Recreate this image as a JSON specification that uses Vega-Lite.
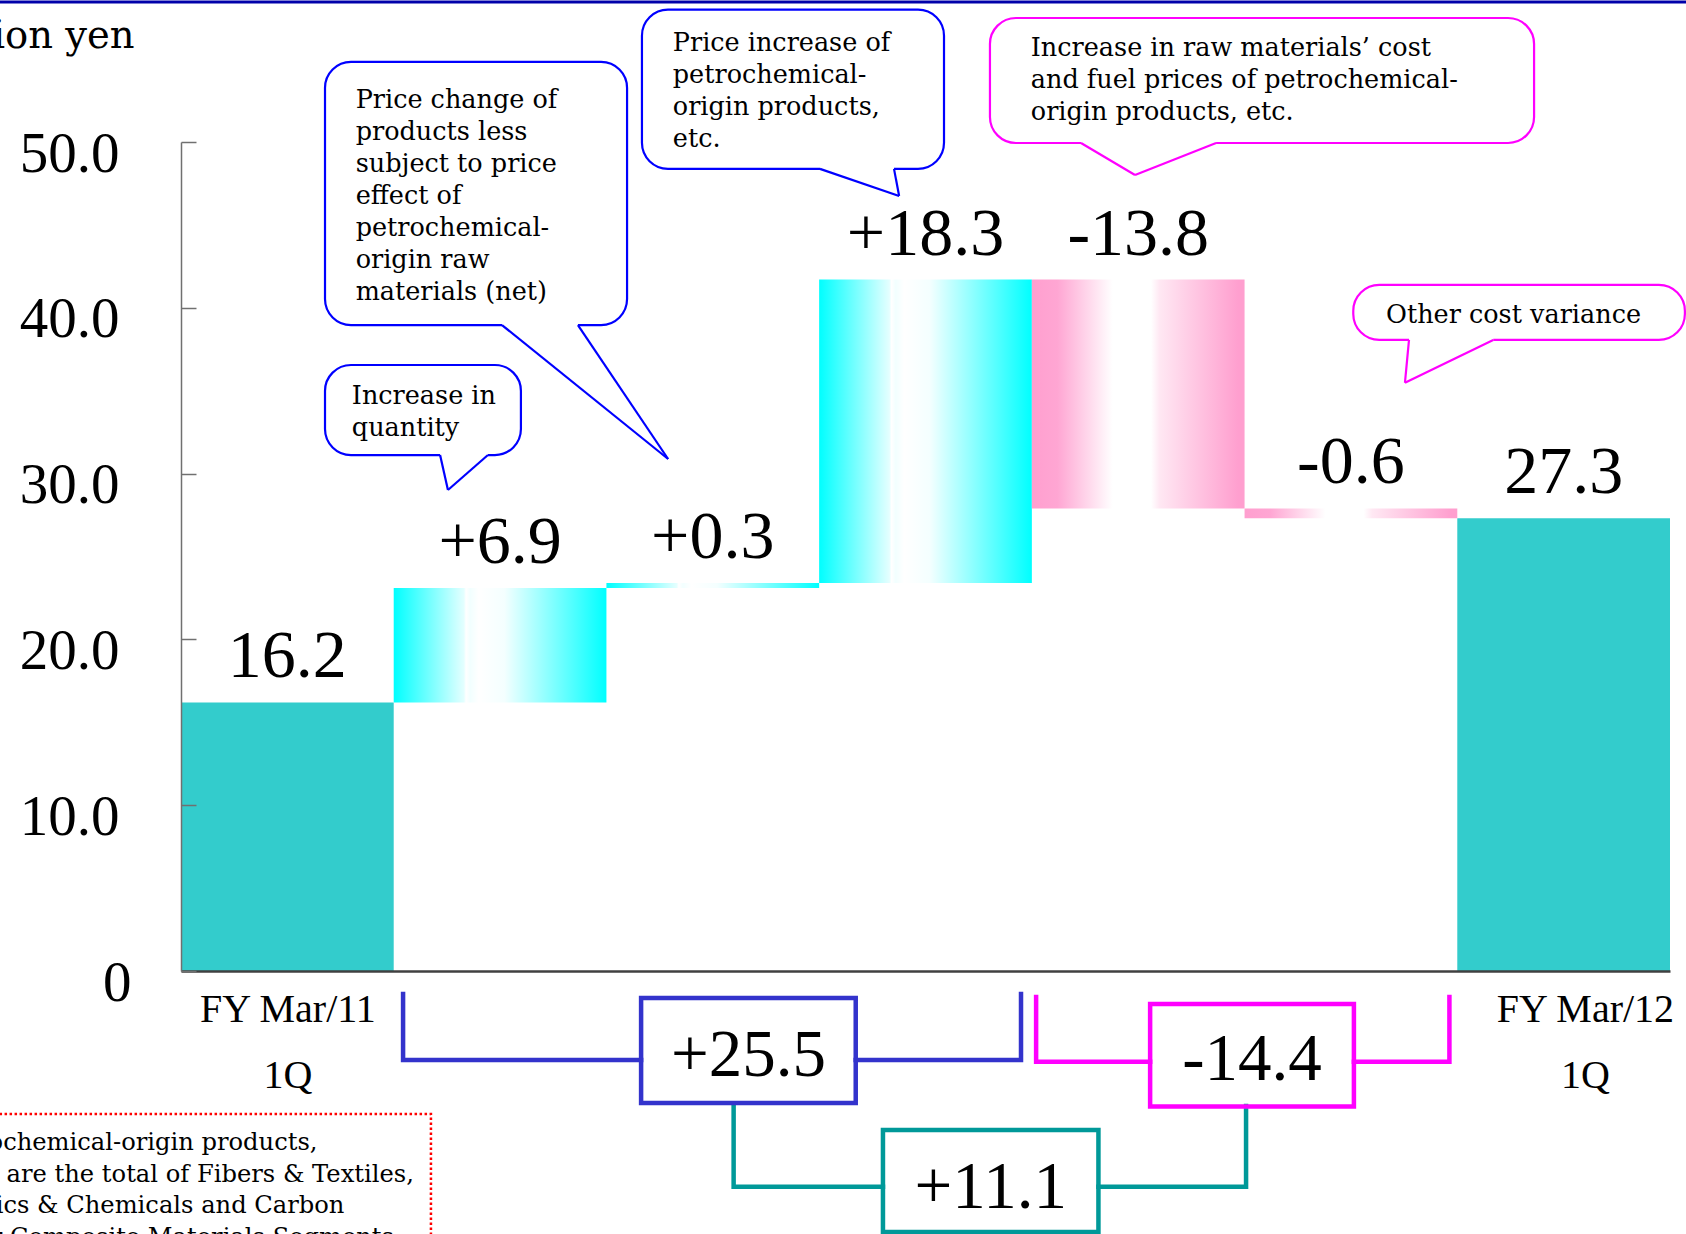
{
  "$schema": "https://vega.github.io/schema/vega-lite/v6.json",
  "width": 1489,
  "height": 829,
  "autosize": {"type": "none"},
  "padding": {"left": 181, "top": 142, "right": 16, "bottom": 263},
  "background": "white",
  "config": {"view": {"stroke": null}},
  "datasets": {
    "steps": [
      {"i": 0, "step": "FY Mar/11 1Q", "amount": 16.2, "type": "total"},
      {"i": 1, "step": "Increase in quantity", "amount": 6.9, "type": "up"},
      {"i": 2, "step": "Price change of products less subject to price effect", "amount": 0.3, "type": "up"},
      {"i": 3, "step": "Price increase of petrochemical-origin products", "amount": 18.3, "type": "up"},
      {"i": 4, "step": "Raw materials' cost and fuel prices", "amount": -13.8, "type": "down"},
      {"i": 5, "step": "Other cost variance", "amount": -0.6, "type": "down"},
      {"i": 6, "step": "FY Mar/12 1Q", "amount": 27.3, "type": "total"}
    ],
    "topBorder": [
      {"u1": -0.9, "u2": 7.1, "v": 58.45}
    ],
    "callouts": [
      {"note": "quantity", "side": "gain", "bx1": 0.677, "bx2": 1.598, "by1": 36.55, "by2": 31.12, "tx1": 1.218, "tx2": 1.443, "tipx": 1.255, "tipy": 29.01, "lx": 0.803, "ly": 34.2,
       "lines": ["Increase in", "quantity"]},
      {"note": "price_other", "side": "gain", "bx1": 0.677, "bx2": 2.097, "by1": 54.83, "by2": 38.96, "tx1": 1.509, "tx2": 1.866, "tipx": 2.29, "tipy": 30.88, "lx": 0.821, "ly": 52.07,
       "lines": ["Price change of", "products less", "subject to price", "effect of", "petrochemical-", "origin raw", "materials (net)"]},
      {"note": "price_petro", "side": "gain", "bx1": 2.167, "bx2": 3.587, "by1": 57.98, "by2": 48.38, "tx1": 3.004, "tx2": 3.352, "tipx": 3.376, "tipy": 46.74, "lx": 2.312, "ly": 55.5,
       "lines": ["Price increase of", "petrochemical-", "origin products,", "etc."]},
      {"note": "raw_cost", "side": "cost", "bx1": 3.803, "bx2": 6.361, "by1": 57.48, "by2": 49.94, "tx1": 4.231, "tx2": 4.866, "tipx": 4.485, "tipy": 48.01, "lx": 3.995, "ly": 55.19,
       "lines": ["Increase in raw materials’ cost", "and fuel prices of petrochemical-", "origin products, etc."]},
      {"note": "other_cost", "side": "cost", "bx1": 5.511, "bx2": 7.07, "by1": 41.38, "by2": 38.06, "tx1": 5.773, "tx2": 6.169, "tipx": 5.754, "tipy": 35.48, "lx": 5.665, "ly": 39.06,
       "lines": ["Other cost variance"]}
    ],
    "bracketLines": [
      {"piece": "b1", "group": "gain", "seq": 1, "u": 1.044, "v": -1.39},
      {"piece": "b1", "group": "gain", "seq": 2, "u": 1.044, "v": -5.37},
      {"piece": "b1", "group": "gain", "seq": 3, "u": 2.163, "v": -5.37},
      {"piece": "b2", "group": "gain", "seq": 1, "u": 3.172, "v": -5.37},
      {"piece": "b2", "group": "gain", "seq": 2, "u": 3.949, "v": -5.37},
      {"piece": "b2", "group": "gain", "seq": 3, "u": 3.949, "v": -1.39},
      {"piece": "m1", "group": "cost", "seq": 1, "u": 4.02, "v": -1.57},
      {"piece": "m1", "group": "cost", "seq": 2, "u": 4.02, "v": -5.47},
      {"piece": "m1", "group": "cost", "seq": 3, "u": 4.556, "v": -5.47},
      {"piece": "m2", "group": "cost", "seq": 1, "u": 5.514, "v": -5.47},
      {"piece": "m2", "group": "cost", "seq": 2, "u": 5.963, "v": -5.47},
      {"piece": "m2", "group": "cost", "seq": 3, "u": 5.963, "v": -1.57},
      {"piece": "t1", "group": "net", "seq": 1, "u": 2.598, "v": -8.14},
      {"piece": "t1", "group": "net", "seq": 2, "u": 2.598, "v": -13.01},
      {"piece": "t1", "group": "net", "seq": 3, "u": 3.3, "v": -13.01},
      {"piece": "t2", "group": "net", "seq": 1, "u": 4.313, "v": -13.01},
      {"piece": "t2", "group": "net", "seq": 2, "u": 5.007, "v": -13.01},
      {"piece": "t2", "group": "net", "seq": 3, "u": 5.007, "v": -8.14}
    ],
    "bracketBoxes": [
      {"group": "gain", "text": "+25.5", "u1": 2.163, "u2": 3.172, "v1": -1.63, "v2": -7.96, "tu": 2.668, "tv": -6.33},
      {"group": "cost", "text": "-14.4", "u1": 4.556, "u2": 5.514, "v1": -1.99, "v2": -8.18, "tu": 5.035, "tv": -6.57},
      {"group": "net", "text": "+11.1", "u1": 3.3, "u2": 4.313, "v1": -9.59, "v2": -15.74, "tu": 3.807, "tv": -14.31}
    ],
    "footnoteBox": [
      {"u1": -0.9, "u2": 1.175, "v1": -8.62, "v2": -16.9}
    ],
    "footnoteLines": [
      {"line": 1, "text": "*Petrochemical-origin products,", "tu": -1.2, "tv": -10.8},
      {"line": 2, "text": "etc. are the total of Fibers & Textiles,", "tu": -1.069, "tv": -12.7},
      {"line": 3, "text": "Plastics & Chemicals and Carbon", "tu": -1.156, "tv": -14.6},
      {"line": 4, "text": "Fiber Composite Materials Segments", "tu": -1.15, "tv": -16.5}
    ]
  },
  "layer": [
    {
      "data": {"name": "steps"},
      "transform": [
        {"window": [{"op": "sum", "field": "amount", "as": "running"}], "sort": [{"field": "i", "order": "ascending"}]},
        {"calculate": "datum.type === 'total' ? 0 : datum.running - datum.amount", "as": "base"},
        {"calculate": "datum.type === 'total' ? datum.amount : datum.running", "as": "level"},
        {"calculate": "datum.i + 1", "as": "i_end"},
        {"calculate": "datum.i + 0.5", "as": "i_mid"},
        {"calculate": "max(datum.base, datum.level)", "as": "top"},
        {"calculate": "(datum.type === 'total' ? '' : (datum.amount > 0 ? '+' : '-')) + format(abs(datum.amount), '.1f')", "as": "tag"}
      ],
      "layer": [
        {
          "transform": [{"filter": "datum.type === 'total'"}],
          "mark": {"type": "rect", "color": "#33cccc"},
          "encoding": {
            "x": {
              "field": "i", "type": "quantitative",
              "scale": {"domain": [0, 7], "nice": false, "zero": false},
              "axis": {
                "values": [0.5, 6.6],
                "labelExpr": "datum.value < 3 ? ['FY Mar/11', '1Q'] : ['FY Mar/12', '1Q']",
                "labelFont": "Liberation Serif", "labelFontSize": 40, "labelColor": "black",
                "labelLineHeight": 66, "labelBaseline": "alphabetic", "labelPadding": 50,
                "labelFlush": false, "labelOverlap": false, "labelBound": false,
                "ticks": false, "tickSize": 0, "grid": false,
                "domainColor": "#404040", "domainWidth": 2.5,
                "title": null, "zindex": 2
              }
            },
            "x2": {"field": "i_end"},
            "y": {
              "field": "base", "type": "quantitative",
              "scale": {"domain": [0, 50], "nice": false, "zero": false},
              "axis": {
                "values": [0, 10, 20, 30, 40, 50],
                "labelExpr": "datum.value === 0 ? '0' : format(datum.value, '.1f')",
                "labelFont": "Liberation Serif", "labelFontSize": 57, "labelColor": "black",
                "labelAlign": "right", "labelBaseline": "alphabetic", "labelOffset": 29,
                "labelPadding": {"condition": {"test": "datum.value === 0", "value": 65}, "value": 77},
                "labelFlush": false, "labelOverlap": false, "labelBound": false,
                "tickSize": -15, "tickColor": "#707070", "tickWidth": 1.5,
                "domainColor": "#707070", "domainWidth": 1.5, "grid": false,
                "title": "Billion yen", "titleFont": "DejaVu Serif", "titleFontSize": 38.5,
                "titleFontWeight": "normal", "titleColor": "black", "titleAngle": 0,
                "titleAlign": "right", "titleBaseline": "alphabetic", "titleX": -47, "titleY": -95,
                "zindex": 2
              }
            },
            "y2": {"field": "level"}
          }
        },
        {
          "transform": [{"filter": "datum.type === 'up'"}],
          "mark": {
            "type": "rect",
            "color": {
              "gradient": "linear", "x1": 0, "x2": 1, "y1": 0, "y2": 0,
              "stops": [
                {"offset": 0, "color": "#00ffff"},
                {"offset": 0.33, "color": "#e4ffff"},
                {"offset": 0.34, "color": "#ffffff"},
                {"offset": 0.36, "color": "#f2ffff"},
                {"offset": 0.4, "color": "#ffffff"},
                {"offset": 0.52, "color": "#f4ffff"},
                {"offset": 1, "color": "#00ffff"}
              ]
            }
          },
          "encoding": {
            "x": {"field": "i", "type": "quantitative", "scale": {"domain": [0, 7], "nice": false, "zero": false}},
            "x2": {"field": "i_end"},
            "y": {"field": "base", "type": "quantitative", "scale": {"domain": [0, 50], "nice": false, "zero": false}},
            "y2": {"field": "level"}
          }
        },
        {
          "transform": [{"filter": "datum.type === 'down'"}],
          "mark": {
            "type": "rect",
            "color": {
              "gradient": "linear", "x1": 0, "x2": 1, "y1": 0, "y2": 0,
              "stops": [
                {"offset": 0, "color": "#ff9fcf"},
                {"offset": 0.12, "color": "#ffa6d3"},
                {"offset": 0.38, "color": "#ffffff"},
                {"offset": 0.56, "color": "#ffffff"},
                {"offset": 0.6, "color": "#ffe8f3"},
                {"offset": 0.97, "color": "#ff9fcf"},
                {"offset": 1, "color": "#ff9fcf"}
              ]
            }
          },
          "encoding": {
            "x": {"field": "i", "type": "quantitative", "scale": {"domain": [0, 7], "nice": false, "zero": false}},
            "x2": {"field": "i_end"},
            "y": {"field": "base", "type": "quantitative", "scale": {"domain": [0, 50], "nice": false, "zero": false}},
            "y2": {"field": "level"}
          }
        },
        {
          "mark": {"type": "text", "font": "Liberation Serif", "fontSize": 68, "color": "black", "align": "center", "baseline": "alphabetic", "dy": -25},
          "encoding": {
            "x": {"field": "i_mid", "type": "quantitative", "scale": {"domain": [0, 7], "nice": false, "zero": false}},
            "y": {"field": "top", "type": "quantitative", "scale": {"domain": [0, 50], "nice": false, "zero": false}},
            "text": {"field": "tag"}
          }
        }
      ]
    },
    {
      "data": {"name": "topBorder"},
      "mark": {"type": "rule", "color": "#0000aa", "strokeWidth": 3},
      "encoding": {
        "x": {"field": "u1", "type": "quantitative", "scale": {"domain": [0, 7], "nice": false, "zero": false}},
        "x2": {"field": "u2"},
        "y": {"field": "v", "type": "quantitative", "scale": {"domain": [0, 50], "nice": false, "zero": false}}
      }
    },
    {
      "data": {"name": "callouts"},
      "layer": [
        {
          "mark": {"type": "rect", "fill": "white", "strokeWidth": 2.2, "cornerRadius": 26},
          "encoding": {
            "x": {"field": "bx1", "type": "quantitative", "scale": {"domain": [0, 7], "nice": false, "zero": false}},
            "x2": {"field": "bx2"},
            "y": {"field": "by1", "type": "quantitative", "scale": {"domain": [0, 50], "nice": false, "zero": false}},
            "y2": {"field": "by2"},
            "stroke": {"field": "side", "type": "nominal", "scale": {"domain": ["gain", "cost"], "range": ["#0000ff", "#ff00ff"]}, "legend": null}
          }
        },
        {
          "mark": {"type": "rule", "color": "white", "strokeWidth": 5},
          "encoding": {
            "x": {"field": "tx1", "type": "quantitative", "scale": {"domain": [0, 7], "nice": false, "zero": false}},
            "x2": {"field": "tx2"},
            "y": {"field": "by2", "type": "quantitative", "scale": {"domain": [0, 50], "nice": false, "zero": false}}
          }
        },
        {
          "mark": {"type": "rule", "strokeWidth": 2.2},
          "encoding": {
            "x": {"field": "tx1", "type": "quantitative", "scale": {"domain": [0, 7], "nice": false, "zero": false}},
            "x2": {"field": "tipx"},
            "y": {"field": "by2", "type": "quantitative", "scale": {"domain": [0, 50], "nice": false, "zero": false}},
            "y2": {"field": "tipy"},
            "stroke": {"field": "side", "type": "nominal", "legend": null}
          }
        },
        {
          "mark": {"type": "rule", "strokeWidth": 2.2},
          "encoding": {
            "x": {"field": "tx2", "type": "quantitative", "scale": {"domain": [0, 7], "nice": false, "zero": false}},
            "x2": {"field": "tipx"},
            "y": {"field": "by2", "type": "quantitative", "scale": {"domain": [0, 50], "nice": false, "zero": false}},
            "y2": {"field": "tipy"},
            "stroke": {"field": "side", "type": "nominal", "legend": null}
          }
        },
        {
          "mark": {"type": "text", "font": "DejaVu Serif", "fontSize": 25.5, "lineHeight": 32, "color": "black", "align": "left", "baseline": "alphabetic"},
          "encoding": {
            "x": {"field": "lx", "type": "quantitative", "scale": {"domain": [0, 7], "nice": false, "zero": false}},
            "y": {"field": "ly", "type": "quantitative", "scale": {"domain": [0, 50], "nice": false, "zero": false}},
            "text": {"field": "lines"}
          }
        }
      ]
    },
    {
      "data": {"name": "bracketLines"},
      "mark": {"type": "line", "strokeWidth": 4.5, "strokeJoin": "miter", "strokeCap": "square"},
      "encoding": {
        "x": {"field": "u", "type": "quantitative", "scale": {"domain": [0, 7], "nice": false, "zero": false}},
        "y": {"field": "v", "type": "quantitative", "scale": {"domain": [0, 50], "nice": false, "zero": false}},
        "detail": {"field": "piece"},
        "order": {"field": "seq"},
        "color": {"field": "group", "type": "nominal", "scale": {"domain": ["gain", "cost", "net"], "range": ["#3333cc", "#ff00ff", "#009999"]}, "legend": null}
      }
    },
    {
      "data": {"name": "bracketBoxes"},
      "layer": [
        {
          "mark": {"type": "rect", "filled": false, "strokeWidth": 4.5},
          "encoding": {
            "x": {"field": "u1", "type": "quantitative", "scale": {"domain": [0, 7], "nice": false, "zero": false}},
            "x2": {"field": "u2"},
            "y": {"field": "v1", "type": "quantitative", "scale": {"domain": [0, 50], "nice": false, "zero": false}},
            "y2": {"field": "v2"},
            "color": {"field": "group", "type": "nominal", "legend": null}
          }
        },
        {
          "mark": {"type": "text", "font": "Liberation Serif", "fontSize": 67, "color": "black", "align": "center", "baseline": "alphabetic"},
          "encoding": {
            "x": {"field": "tu", "type": "quantitative", "scale": {"domain": [0, 7], "nice": false, "zero": false}},
            "y": {"field": "tv", "type": "quantitative", "scale": {"domain": [0, 50], "nice": false, "zero": false}},
            "text": {"field": "text"}
          }
        }
      ]
    },
    {
      "data": {"name": "footnoteBox"},
      "mark": {"type": "rect", "filled": false, "stroke": "#ff0000", "strokeWidth": 2.5, "strokeDash": [2.5, 2.5]},
      "encoding": {
        "x": {"field": "u1", "type": "quantitative", "scale": {"domain": [0, 7], "nice": false, "zero": false}},
        "x2": {"field": "u2"},
        "y": {"field": "v1", "type": "quantitative", "scale": {"domain": [0, 50], "nice": false, "zero": false}},
        "y2": {"field": "v2"}
      }
    },
    {
      "data": {"name": "footnoteLines"},
      "mark": {"type": "text", "font": "DejaVu Serif", "fontSize": 24.2, "color": "black", "align": "left", "baseline": "alphabetic"},
      "encoding": {
        "x": {"field": "tu", "type": "quantitative", "scale": {"domain": [0, 7], "nice": false, "zero": false}},
        "y": {"field": "tv", "type": "quantitative", "scale": {"domain": [0, 50], "nice": false, "zero": false}},
        "text": {"field": "text"}
      }
    }
  ]
}
